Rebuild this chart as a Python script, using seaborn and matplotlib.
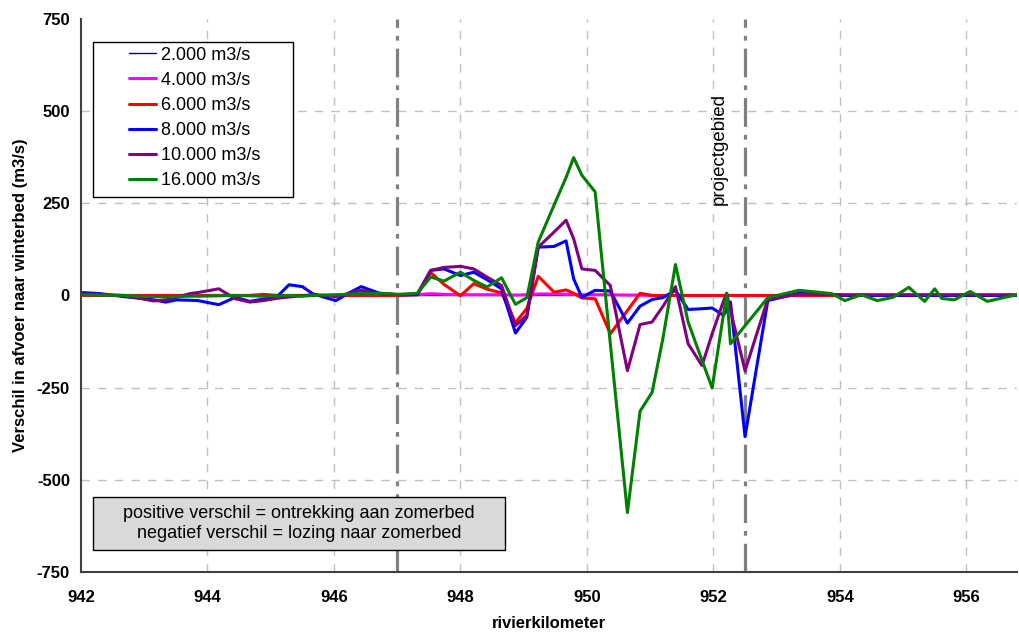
import matplotlib
matplotlib.use("Agg")
import matplotlib.pyplot as plt
from matplotlib.patches import Rectangle
import seaborn as sns

# river km positions (shared by all series)
km = [942.0, 942.3, 942.67, 942.9, 943.15, 943.34, 943.51, 943.72, 943.85, 944.18,
      944.44, 944.67, 944.88, 945.09, 945.29, 945.5, 945.66, 945.85, 946.03, 946.22,
      946.43, 946.72, 947.03, 947.32, 947.53, 947.74, 948.0, 948.21, 948.42, 948.65,
      948.87, 949.05, 949.23, 949.48, 949.67, 949.79, 949.92, 950.13, 950.37, 950.64,
      950.84, 951.03, 951.2, 951.4, 951.6, 951.82, 951.98, 952.16, 952.21, 952.27,
      952.5, 952.86, 953.35, 953.87, 954.08, 954.34, 954.59, 954.84, 955.09, 955.34,
      955.5, 955.61, 955.81, 956.06, 956.33, 956.8]

q2000 = [0] * 66

q4000 = [0, 0, 0, 0, 0, 0, 0, 0, 0, 0,
         0, 0, 0, 0, 0, 0, 0, 0, 0, 0,
         0, 0, 1, 2, 5, 3, 2, 2, 2, 2,
         1, 2, 4, 4, 3, 3, 2, 2, 2, 1,
         1, 0, 0, 0, 0, 0, 0, 0, 0, 0,
         0, 0, 0, 0, 0, 0, 0, 0, 0, 0,
         0, 0, 0, 0, 0, 0]

q6000 = [0, 0, 0, 0, 0, 0, 0, 0, 0, 0,
         0, 0, 3, 0, 0, 0, 0, 0, 0, 0,
         0, 0, 0, 3, 62, 30, -1, 32, 17, 7,
         -74, -35, 52, 9, 15, 6, -7, -9, -104, -41,
         6, 0, 0, 0, 0, 0, 0, 0, 0, 0,
         0, 0, 0, 0, 0, 0, 0, 0, 0, 0,
         0, 0, 0, 0, 0, 0]

q8000 = [8, 5, -3, -7, -12, -18, -12, -13, -14, -25,
         -5, -16, -10, -5, 29, 24, 5, -5, -14, 5,
         24, 6, 2, 2, 68, 72, 54, 63, 43, 18,
         -102, -59, 131, 133, 148, 45, -5, 14, 12, -75,
         -29, -11, -6, 14, -38, -36, -34, -54, -40, -18,
         -383, -14, 6, 3, 0, 0, 0, 0, 0, 0,
         0, 0, 0, 0, 0, 0]

q10000 = [4, 2, 0, -7, -15, -12, -5, 5, 8, 18,
          -9, -18, -14, -8, -4, -1, 2, 0, -3, 5,
          14, 4, 2, 5, 68, 76, 79, 72, 50, 27,
          -82, -54, 131, 172, 204, 154, 72, 68, 27, -204,
          -79, -72, -30, 24, -131, -190, -104, -15, 6, -40,
          -204, -10, 3, 2, 2, 2, 2, 2, 2, 2,
          2, 2, 2, 2, 2, 2]

q16000 = [2, 1, 0, -2, -3, -4, -3, -2, -2, -1,
          0, -1, -2, -1, 0, -2, 0, 1, 2, 3,
          5, 6, 3, 6, 50, 39, 63, 41, 23, 48,
          -24, -6, 145, 245, 320, 374, 326, 281, -131, -589,
          -314, -263, -118, 84, -72, -176, -251, -50, 6, -131,
          -82, -6, 14, 5, -14, 2, -14, -5, 22, -16,
          18, -8, -12, 11, -16, 2]

labels = ["2.000 m3/s", "4.000 m3/s", "6.000 m3/s", "8.000 m3/s", "10.000 m3/s", "16.000 m3/s"]
series = [q2000, q4000, q6000, q8000, q10000, q16000]
colors = ["#000080", "#ff00ff", "#ff0000", "#0000ff", "#800080", "#008000"]
widths = [1.0, 2.2, 2.2, 2.2, 2.2, 2.2]

yticks = [-750, -500, -250, 0, 250, 500, 750]
xticks = [942, 944, 946, 948, 950, 952, 954, 956]

sns.set_style("white")
plt.rcParams["font.family"] = ["Liberation Sans", "DejaVu Sans"]
plt.rcParams["axes.unicode_minus"] = False
plt.rcParams["text.color"] = "black"
plt.rcParams["axes.labelcolor"] = "black"
plt.rcParams["xtick.color"] = "black"
plt.rcParams["ytick.color"] = "black"

fig = plt.figure(figsize=(10.19, 6.32), dpi=100)
ax = fig.add_axes([0.0795, 0.095, 0.9185, 0.875])

for vals, lab, c, lw in zip(series, labels, colors, widths):
    sns.lineplot(x=km, y=vals, color=c, lw=lw, label=lab, ax=ax, sort=False, estimator=None)

ax.set_xlim(942, 956.8)
ax.set_ylim(-750, 750)
ax.set_xticks(xticks)
ax.set_yticks(yticks)
ax.set_xticklabels([str(t) for t in xticks], fontweight="bold", fontsize=12)
ax.set_yticklabels([str(t) for t in yticks], fontweight="bold", fontsize=12)
ax.tick_params(axis="x", direction="out", length=4, width=1.2, color="#404040", pad=9)
ax.tick_params(axis="y", direction="out", length=4, width=1.2, color="#404040", pad=4)

# dashed grid
for t in xticks[1:]:
    ax.axvline(t, color="#c0c0c0", lw=1, ls=(0, (6, 6)), zorder=0)
for t in [-500, -250, 250, 500]:
    ax.axhline(t, color="#c0c0c0", lw=1, ls=(0, (6, 6)), zorder=0)

# project area boundaries
for xv in [947.0, 952.5]:
    ax.axvline(xv, color="#808080", lw=2.3, ls=(0, (9, 2.5, 1.5, 2.5)), zorder=1)
ax.text(952.1, 245, "projectgebied", rotation=90, ha="center", va="bottom", fontsize=13.5)

for s in ["top", "right"]:
    ax.spines[s].set_visible(False)
for s in ["left", "bottom"]:
    ax.spines[s].set_color("#404040")
    ax.spines[s].set_linewidth(1.5)

ax.set_xlabel("rivierkilometer", fontweight="bold", fontsize=12, labelpad=8)
ax.set_ylabel("Verschil in afvoer naar winterbed (m3/s)", fontweight="bold", fontsize=12, labelpad=6)

# legend with a separate box
ax.add_patch(Rectangle((0.0128, 0.678), 0.2137, 0.280, transform=ax.transAxes,
                       facecolor="white", edgecolor="black", lw=1, zorder=4))
leg = ax.legend(loc="upper left", bbox_to_anchor=(0.051, 0.950), frameon=False,
                fontsize=13, handlelength=1.5, handletextpad=0.3, labelspacing=0.45,
                borderpad=0, borderaxespad=0)
leg.set_zorder(5)

# note box
ax.add_patch(Rectangle((0.0128, 0.0398), 0.440, 0.0958, transform=ax.transAxes,
                       facecolor="#d9d9d9", edgecolor="black", lw=1, zorder=4))
ax.text(0.2329, 0.0877, "positive verschil = ontrekking aan zomerbed\nnegatief verschil = lozing naar zomerbed",
        transform=ax.transAxes, ha="center", va="center", fontsize=13, linespacing=1.3, zorder=5)

fig.savefig("out.png", dpi=100)
